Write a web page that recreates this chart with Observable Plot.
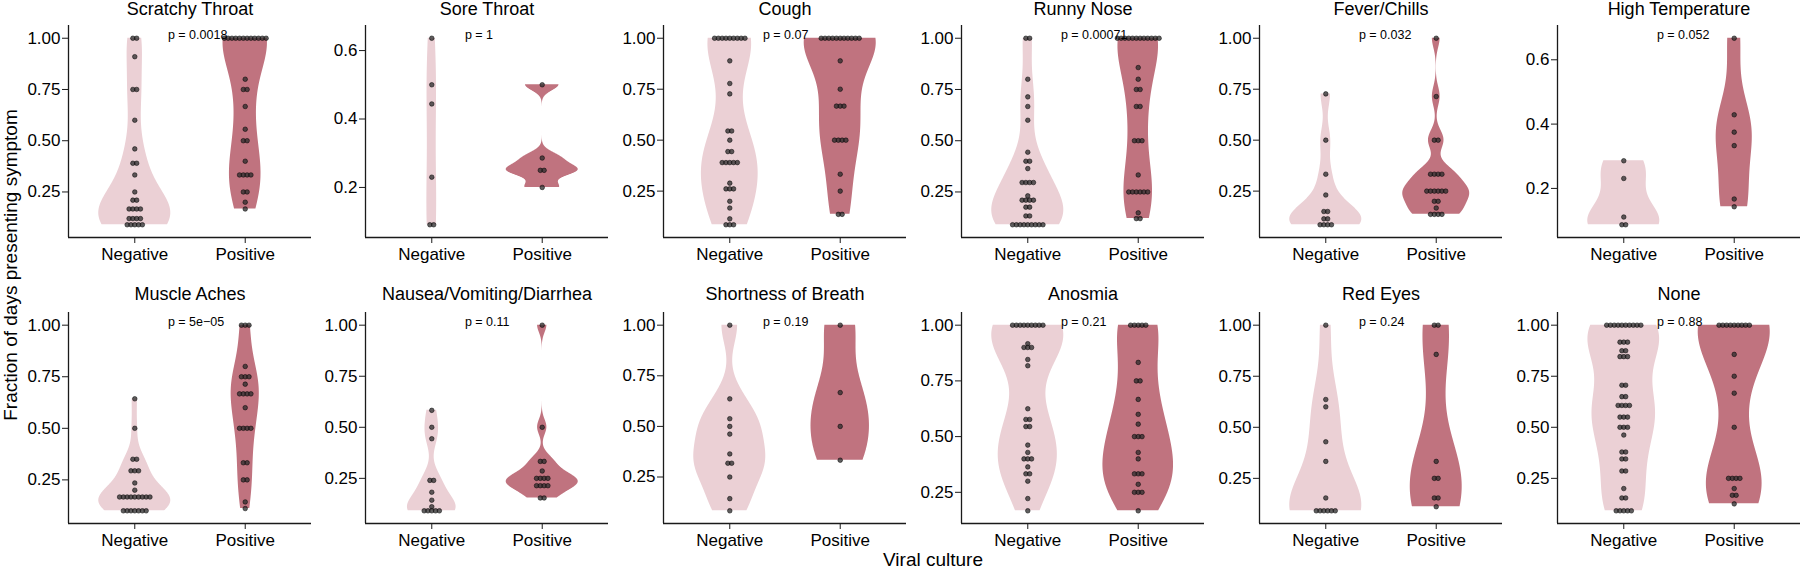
<!DOCTYPE html>
<html><head><meta charset="utf-8">
<script src="https://cdn.jsdelivr.net/npm/d3@7"></script>
<script src="https://cdn.jsdelivr.net/npm/@observablehq/plot@0.6"></script>
<style>
body{margin:0;background:#fff;}
#chart{position:relative;width:1800px;height:570px;background:#fff;font-family:"Liberation Sans",Arial,sans-serif;overflow:hidden;color:#000}
.ylab{position:absolute;left:11px;top:265px;transform:translate(-50%,-50%) rotate(-90deg);font-size:19px;line-height:20px;white-space:nowrap;z-index:5}
.xlab{position:absolute;left:933px;top:560px;transform:translate(-50%,-50%);font-size:19px;line-height:20px;white-space:nowrap;z-index:5}
</style></head><body>
<div id="chart"></div>
<script>
// ---------------- data ----------------
const symptoms = ["Scratchy Throat", "Sore Throat", "Cough", "Runny Nose", "Fever/Chills", "High Temperature",
  "Muscle Aches", "Nausea/Vomiting/Diarrhea", "Shortness of Breath", "Anosmia", "Red Eyes", "None"];
const pLabels = ["p = 0.0018", "p = 1", "p = 0.07", "p = 0.00071", "p = 0.032", "p = 0.052",
  "p = 5e\u221205", "p = 0.11", "p = 0.19", "p = 0.21", "p = 0.24", "p = 0.88"];
const groups = ["Negative", "Positive"];
const groupColors = ["#ebd0d5", "#c0737f"];
const fractionTicks = [0.25, 0.5, 0.75, 1];
const smallTicks = [0.2, 0.4, 0.6];
const xTitle = "Viral culture";
const yTitle = "Fraction of days presenting symptom";

const scratchyNeg = [1, 1, 0.91, 0.75, 0.75, 0.6, 0.46, 0.39, 0.39, 0.333, 0.25, 0.21, 0.21, 0.167, 0.167, 0.167, 0.167, 0.12, 0.12, 0.12, 0.12, 0.09, 0.09, 0.09, 0.09, 0.09];
const scratchyPos = [1, 1, 1, 1, 1, 1, 1, 1, 1, 1, 1, 1, 0.8, 0.75, 0.75, 0.667, 0.556, 0.5, 0.5, 0.4, 0.333, 0.333, 0.333, 0.333, 0.25, 0.25, 0.2, 0.167];
const soreNeg = [0.636, 0.5, 0.444, 0.23, 0.091, 0.091];
const sorePos = [0.5, 0.286, 0.25, 0.25, 0.2];
const coughNeg = [1, 1, 1, 1, 1, 1, 1, 1, 1, 0.889, 0.778, 0.727, 0.545, 0.545, 0.5, 0.444, 0.444, 0.39, 0.39, 0.39, 0.39, 0.39, 0.289, 0.261, 0.261, 0.261, 0.2, 0.167, 0.114, 0.085, 0.085, 0.085];
const coughPos = [1, 1, 1, 1, 1, 1, 1, 1, 1, 1, 1, 0.889, 0.75, 0.667, 0.667, 0.667, 0.5, 0.5, 0.5, 0.5, 0.333, 0.25, 0.136, 0.136];
const runnyNeg = [1, 1, 0.8, 0.714, 0.667, 0.6, 0.444, 0.4, 0.4, 0.364, 0.296, 0.296, 0.296, 0.296, 0.231, 0.21, 0.21, 0.21, 0.21, 0.176, 0.176, 0.133, 0.133, 0.09, 0.09, 0.09, 0.09, 0.09, 0.09, 0.09, 0.09, 0.09];
const runnyPos = [1, 1, 1, 1, 1, 1, 1, 1, 1, 1, 1, 1, 0.857, 0.8, 0.75, 0.75, 0.667, 0.667, 0.5, 0.5, 0.5, 0.333, 0.25, 0.25, 0.25, 0.25, 0.25, 0.25, 0.148, 0.12, 0.12];
const feverNeg = [0.727, 0.5, 0.333, 0.231, 0.15, 0.15, 0.114, 0.114, 0.085, 0.085, 0.085, 0.085];
const feverPos = [1, 0.714, 0.5, 0.5, 0.333, 0.333, 0.333, 0.333, 0.25, 0.25, 0.25, 0.25, 0.25, 0.25, 0.2, 0.2, 0.167, 0.136, 0.136, 0.136, 0.136];
const tempNeg = [0.286, 0.231, 0.111, 0.087, 0.087];
const tempPos = [0.667, 0.429, 0.375, 0.333, 0.167, 0.143];
const muscleNeg = [0.643, 0.5, 0.35, 0.35, 0.294, 0.294, 0.294, 0.235, 0.2, 0.167, 0.167, 0.167, 0.167, 0.167, 0.167, 0.167, 0.167, 0.167, 0.1, 0.1, 0.1, 0.1, 0.1, 0.1, 0.1];
const musclePos = [1, 1, 1, 0.8, 0.75, 0.75, 0.75, 0.714, 0.667, 0.667, 0.667, 0.667, 0.6, 0.5, 0.5, 0.5, 0.5, 0.333, 0.333, 0.25, 0.25, 0.143, 0.111];
const nauseaNeg = [0.583, 0.5, 0.444, 0.24, 0.24, 0.182, 0.143, 0.111, 0.091, 0.091, 0.091, 0.091, 0.091];
const nauseaPos = [1, 0.5, 0.333, 0.333, 0.286, 0.25, 0.25, 0.25, 0.25, 0.214, 0.214, 0.214, 0.214, 0.154, 0.154];
const breathNeg = [1, 0.636, 0.538, 0.5, 0.462, 0.364, 0.318, 0.318, 0.25, 0.143, 0.083];
const breathPos = [1, 0.667, 0.5, 0.333];
const anosmiaNeg = [1, 1, 1, 1, 1, 1, 1, 1, 1, 0.917, 0.9, 0.9, 0.9, 0.846, 0.818, 0.625, 0.577, 0.577, 0.545, 0.545, 0.462, 0.429, 0.4, 0.4, 0.4, 0.364, 0.333, 0.333, 0.3, 0.222, 0.167];
const anosmiaPos = [1, 1, 1, 1, 1, 0.833, 0.75, 0.75, 0.667, 0.6, 0.556, 0.5, 0.5, 0.5, 0.429, 0.4, 0.333, 0.333, 0.333, 0.286, 0.25, 0.25, 0.25, 0.167];
const redNeg = [1, 0.636, 0.6, 0.429, 0.333, 0.154, 0.091, 0.091, 0.091, 0.091, 0.091, 0.091];
const redPos = [1, 1, 0.857, 0.333, 0.25, 0.25, 0.154, 0.154, 0.111];
const noneNeg = [1, 1, 1, 1, 1, 1, 1, 1, 1, 1, 0.917, 0.917, 0.917, 0.875, 0.875, 0.846, 0.846, 0.846, 0.706, 0.706, 0.65, 0.65, 0.607, 0.607, 0.607, 0.607, 0.55, 0.55, 0.55, 0.5, 0.5, 0.5, 0.462, 0.379, 0.379, 0.345, 0.345, 0.286, 0.286, 0.2, 0.154, 0.154, 0.091, 0.091, 0.091, 0.091, 0.091];
const nonePos = [1, 1, 1, 1, 1, 1, 1, 1, 1, 0.857, 0.75, 0.667, 0.5, 0.25, 0.25, 0.25, 0.25, 0.2, 0.167, 0.167, 0.125];

const negatives = [scratchyNeg, soreNeg, coughNeg, runnyNeg, feverNeg, tempNeg, muscleNeg, nauseaNeg, breathNeg, anosmiaNeg, redNeg, noneNeg];
const positives = [scratchyPos, sorePos, coughPos, runnyPos, feverPos, tempPos, musclePos, nauseaPos, breathPos, anosmiaPos, redPos, nonePos];
const panelTicks = [fractionTicks, smallTicks, fractionTicks, fractionTicks, fractionTicks, smallTicks,
  fractionTicks, fractionTicks, fractionTicks, fractionTicks, fractionTicks, fractionTicks];

// ---------------- helpers ----------------
function bwNrd0(v) {
  const n = v.length;
  const hi = d3.deviation(v);
  const s = v.slice().sort(d3.ascending);
  const iqr = d3.quantileSorted(s, 0.75) - d3.quantileSorted(s, 0.25);
  let lo = Math.min(hi, iqr / 1.34);
  if (!lo) lo = hi || Math.abs(s[0]) || 1;
  return 0.9 * lo * Math.pow(n, -0.2);
}
function kde(v) {
  const bw = bwNrd0(v);
  const [a, b] = d3.extent(v);
  const n = 512, out = [];
  for (let i = 0; i < n; i++) {
    const y = a + (b - a) * i / (n - 1);
    let s = 0;
    for (const x of v) { const z = (y - x) / bw; s += Math.exp(-0.5 * z * z); }
    out.push({y, d: s / (v.length * bw * Math.sqrt(2 * Math.PI))});
  }
  return out;
}

// ---------------- layout ----------------
const PW = 243, ML = 62, MT = 25, MB = 34;
const rowTop = [25, 312], rowBottom = [237, 523];
const titleDy = [-16.5, -18];
const colAxis = [67.7, 365, 663, 961, 1259, 1557];
const HALF = 0.326;
const XDOM = [0.4, 2.6];
const DOT_STEP = 3.8 / (PW / (XDOM[1] - XDOM[0]));

const chart = document.getElementById("chart");

symptoms.forEach((name, i) => {
  const r = Math.floor(i / 6), c = i % 6;
  const sets = [negatives[i], positives[i]];
  const all = sets[0].concat(sets[1]);
  const [mn, mx] = d3.extent(all);
  const rng = mx - mn, bwd = rng / 30, rr = rng + bwd;
  const lo = mn - bwd / 2 - 0.05 * rr, hi = mx + bwd / 2 + 0.05 * rr;

  const dens = sets.map(kde);
  const maxD = d3.max(dens.flat(), d => d.d);
  const violin = groups.flatMap((g, gi) => dens[gi].map(p => ({
    group: g, y: p.y, x1: gi + 1 - HALF * p.d / maxD, x2: gi + 1 + HALF * p.d / maxD
  })));

  const dots = [];
  sets.forEach((vals, gi) => {
    const counts = d3.rollup(vals, v => v.length, v => v);
    const seen = new Map();
    for (const v of vals) {
      const k = counts.get(v), j = seen.get(v) || 0;
      seen.set(v, j + 1);
      dots.push({x: gi + 1 + (j - (k - 1) / 2) * DOT_STEP, y: v});
    }
  });

  const fmt = panelTicks[i] === smallTicks ? d3.format(".1f") : d3.format(".2f");
  const plotH = rowBottom[r] - rowTop[r];
  const svg = Plot.plot({
    width: ML + PW, height: MT + plotH + MB,
    marginLeft: ML, marginRight: 0, marginTop: MT, marginBottom: MB,
    style: {background: "transparent", overflow: "visible", fontFamily: "'Liberation Sans', Arial, sans-serif", fontSize: "17px", color: "#000"},
    x: {domain: XDOM, inset: 0},
    y: {domain: [lo, hi], inset: 0},
    color: {domain: groups, range: groupColors},
    marks: [
      Plot.areaX(violin, {y: "y", x1: "x1", x2: "x2", fill: "group", z: "group", curve: "linear"}),
      Plot.dot(dots, {x: "x", y: "y", r: 2.3, fill: "#2b2b2b", fillOpacity: 0.75, stroke: "#000", strokeWidth: 0.6, strokeOpacity: 0.85}),
      Plot.ruleX([XDOM[0]], {stroke: "#1a1a1a", strokeWidth: 1.3}),
      Plot.ruleY([lo], {stroke: "#1a1a1a", strokeWidth: 1.3}),
      Plot.axisX([1, 2], {tickFormat: d => groups[d - 1], tickSize: 6, tickPadding: 4, fontSize: 17, label: null, stroke: "#1a1a1a"}),
      Plot.axisY(panelTicks[i], {tickFormat: fmt, tickSize: 6, tickPadding: 2, fontSize: 17, label: null, stroke: "#1a1a1a"}),
      Plot.text([name], {text: d => d, frameAnchor: "top", lineAnchor: "middle", dy: titleDy[r], fontSize: 18, fill: "#000"}),
      Plot.text([{x: 1.3, y: mx, label: pLabels[i]}], {x: "x", y: "y", text: "label", textAnchor: "start", lineAnchor: "middle", dy: -3, fontSize: 12.5, fill: "#000"})
    ]
  });
  svg.style.position = "absolute";
  svg.style.left = (colAxis[c] - ML) + "px";
  svg.style.top = (rowTop[r] - MT) + "px";
  chart.appendChild(svg);
});

const yl = document.createElement("div");
yl.className = "ylab"; yl.textContent = yTitle; chart.appendChild(yl);
const xl = document.createElement("div");
xl.className = "xlab"; xl.textContent = xTitle; chart.appendChild(xl);
</script>
</body></html>
